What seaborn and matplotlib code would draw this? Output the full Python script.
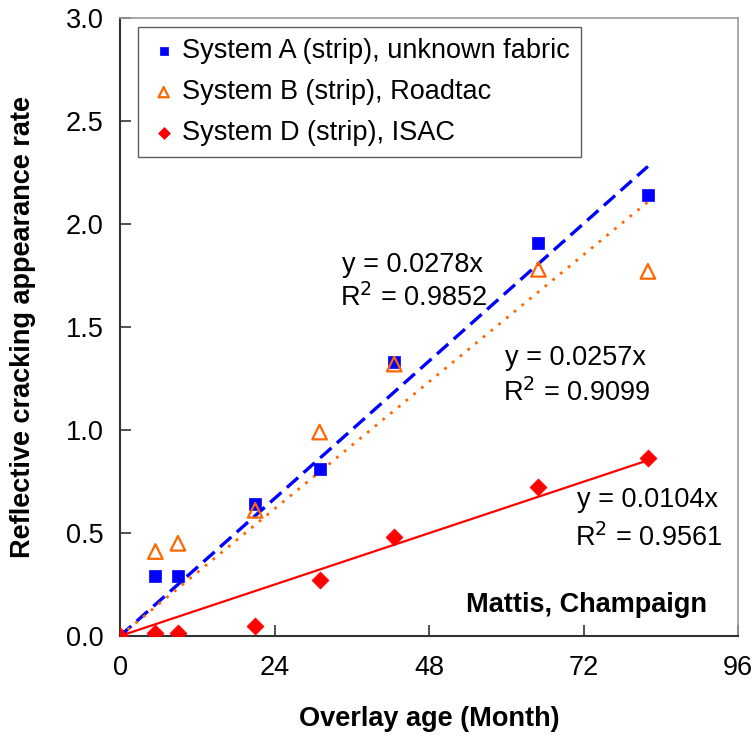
import numpy as np
import pandas as pd
import matplotlib
matplotlib.use("Agg")
import matplotlib.pyplot as plt
import seaborn as sns

# Overlay age (months) at each survey
months = [0, 5.5, 9, 21, 31, 42.6, 65, 82]

# Reflective cracking appearance rate per system
system_a = [0.0, 0.29, 0.29, 0.64, 0.81, 1.33, 1.91, 2.14]
system_b = [0.0, 0.41, 0.45, 0.61, 0.99, 1.32, 1.78, 1.77]
system_d = [0.0, 0.013, 0.013, 0.049, 0.27, 0.48, 0.725, 0.863]

series_names = [
    "System A (strip), unknown fabric",
    "System B (strip), Roadtac",
    "System D (strip), ISAC",
]

# Linear trend through origin: slope and R^2 for each system
slopes = [0.0278, 0.0257, 0.0104]
r2_values = ["0.9852", "0.9099", "0.9561"]

x_ticks = [0, 24, 48, 72, 96]
y_ticks = [0.0, 0.5, 1.0, 1.5, 2.0, 2.5, 3.0]

sns.set_theme(style="white")
plt.rcParams["font.family"] = ["Liberation Sans", "DejaVu Sans"]
plt.rcParams["text.color"] = "black"
plt.rcParams["axes.labelcolor"] = "black"
plt.rcParams["xtick.labelcolor"] = "black"
plt.rcParams["ytick.labelcolor"] = "black"

FS = 19.5

df = pd.DataFrame({
    "month": months * 3,
    "rate": system_a + system_b + system_d,
    "system": sum([[n] * len(months) for n in series_names], []),
})

fig = plt.figure(figsize=(7.54, 7.40), dpi=100)
ax = fig.add_axes([120 / 754, 104 / 740, 618 / 754, 618 / 740])

colors = ["#0000FF", "#FF6600", "#FF0000"]

# Trend lines
line_styles = [
    dict(lw=2.4, dashes=(4.5, 2.2)),
    dict(lw=2.0, dashes=(1.0, 2.6)),
    dict(lw=1.6, dashes=None),
]
x_end = max(months)
for slope, c, st in zip(slopes, colors, line_styles):
    fit = pd.DataFrame({"month": [0, x_end], "rate": [0, slope * x_end]})
    sns.lineplot(data=fit, x="month", y="rate", ax=ax, color=c,
                 lw=st["lw"], legend=False)
    if st["dashes"] is not None:
        ax.lines[-1].set_dashes(st["dashes"])

# Observed points
sub = df[df.system == series_names[0]]
sns.scatterplot(data=sub, x="month", y="rate", ax=ax, marker="s", s=85,
                color=colors[0], edgecolor=colors[0], linewidth=0.5,
                label=series_names[0], zorder=5)
sub = df[df.system == series_names[1]]
sns.scatterplot(data=sub, x="month", y="rate", ax=ax, marker="^", s=110,
                facecolor="none", edgecolor=colors[1], linewidth=1.6,
                label=series_names[1], zorder=6)
sub = df[df.system == series_names[2]]
sns.scatterplot(data=sub, x="month", y="rate", ax=ax, marker="D", s=75,
                color=colors[2], edgecolor=colors[2], linewidth=0.5,
                label=series_names[2], zorder=7)

ax.set_xlim(0, 96)
ax.set_ylim(0, 3.0)
ax.set_xticks(x_ticks)
ax.set_yticks(y_ticks)
ax.set_yticklabels([f"{v:.1f}" for v in y_ticks])
ax.tick_params(axis="both", direction="in", length=8, width=1.2,
               labelsize=FS, color="#333333", labelcolor="black", pad=12,
               bottom=True, left=True)
ax.tick_params(axis="x", pad=14)

for side in ["left", "bottom"]:
    ax.spines[side].set_color("#333333")
    ax.spines[side].set_linewidth(1.5)
for side in ["top", "right"]:
    ax.spines[side].set_color("#999999")
    ax.spines[side].set_linewidth(1.2)

ax.set_xlabel("Overlay age (Month)", fontsize=FS, fontweight="bold",
              labelpad=18, color="black")
ax.set_ylabel("Reflective cracking appearance rate", fontsize=FS,
              fontweight="bold", labelpad=21, color="black")

# Equation labels
eq_pos = [(34.5, 1.80, 1.64), (59.8, 1.35, 1.18), (71.0, 0.66, 0.475)]
for slope, r2, (xp, y1, y2) in zip(slopes, r2_values, eq_pos):
    ax.text(xp, y1, f"y = {slope:.4f}x", fontsize=FS, ha="left", va="center",
            color="black")
    ax.text(xp - 0.3, y2, f"R$^2$ = {r2}", fontsize=FS, ha="left",
            va="center", color="black")

ax.text(91.2, 0.15, "Mattis, Champaign", fontsize=FS, fontweight="bold",
        ha="right", va="center", color="black")

leg = ax.legend(loc="upper left", bbox_to_anchor=(0.029, 0.985), fontsize=FS,
                frameon=True, fancybox=False, edgecolor="#333333",
                borderaxespad=0, handletextpad=0.13, borderpad=0.4,
                labelspacing=0.56, handlelength=1.1, markerscale=0.7)
leg.get_frame().set_linewidth(1.0)
for t in leg.get_texts():
    t.set_color("black")

fig.savefig("out.png", dpi=100)
